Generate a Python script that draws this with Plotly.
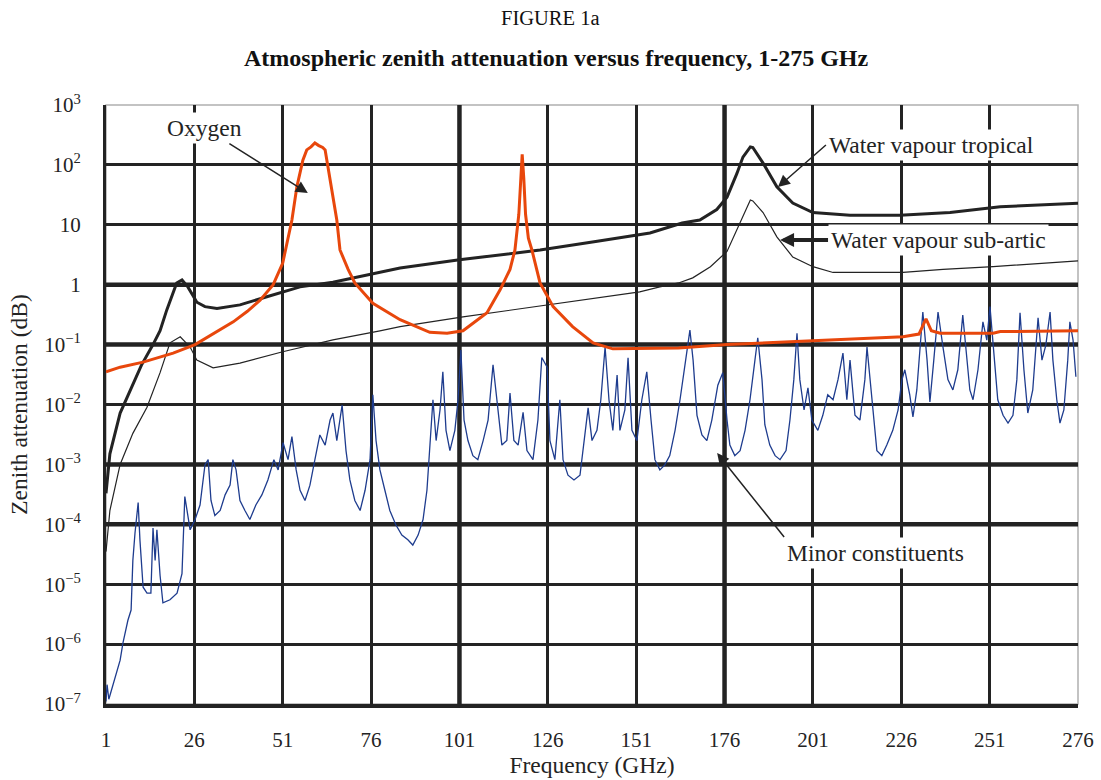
import plotly.graph_objects as go

# ---------------- data ----------------
x_ticks = [1, 26, 51, 76, 101, 126, 151, 176, 201, 226, 251, 276]
y_tickvals = [1e-7, 1e-6, 1e-5, 1e-4, 1e-3, 1e-2, 1e-1, 1, 10, 100, 1000]
y_ticktext = ["10<sup>−7</sup>", "10<sup>−6</sup>", "10<sup>−5</sup>", "10<sup>−4</sup>",
              "10<sup>−3</sup>", "10<sup>−2</sup>", "10<sup>−1</sup>", "1", "10",
              "10<sup>2</sup>", "10<sup>3</sup>"]

oxygen_f = [1, 5, 11.5, 20, 26.2, 32, 37, 41, 44.6, 48.3, 51, 53.6, 55, 56.7, 57.8, 59, 60.1,
            61.2, 62.3, 63, 63.5, 64.9, 66.3, 67.2, 69.5, 71.4, 76.5, 84.2, 92.6, 97.5, 102,
            108.8, 112.5, 115.3, 116.7, 117.8, 118.3, 118.75, 119.2, 119.7, 120.5, 121.5,
            123.8, 127.5, 133, 138.8, 144.4, 163, 176.7, 201, 226.5, 231, 233, 234.5, 237,
            252, 254, 276]
oxygen_db = [0.035, 0.042, 0.051, 0.072, 0.1, 0.16, 0.24, 0.36, 0.55, 1.0, 2.3, 12, 43, 120,
             178, 200, 233, 210, 195, 178, 120, 38, 12, 3.8, 1.8, 1.07, 0.49, 0.26, 0.16,
             0.155, 0.17, 0.34, 0.82, 1.8, 3.8, 15, 60, 150, 60, 15, 6, 3.8, 1.07, 0.43, 0.2,
             0.107, 0.085, 0.088, 0.1, 0.115, 0.135, 0.15, 0.27, 0.17, 0.155, 0.155, 0.165,
             0.17]

tropical_f = [1, 2.1, 5, 8.6, 11, 14.3, 16.3, 18.2, 21, 22.5, 24.2, 26.7, 29, 32.4, 38.9,
              46.5, 55.9, 65.2, 78.5, 84.2, 101, 123.8, 140, 154.9, 164, 169, 173.8, 176.7,
              179.5, 181.2, 183.3, 184, 186.9, 190.8, 195.3, 201, 211.5, 225.6, 239.8, 254,
              276]
tropical_db = [3.3e-4, 1.5e-3, 7.2e-3, 0.022, 0.045, 0.1, 0.17, 0.38, 1.07, 1.2, 0.91, 0.51,
               0.43, 0.4, 0.46, 0.63, 0.92, 1.1, 1.6, 1.9, 2.6, 3.8, 5.3, 7.3, 10.7, 12, 18,
               29, 72, 135, 200, 195, 107, 43, 23, 16, 14.5, 14.5, 16, 20, 23]

subarctic_f = [1, 2.1, 5, 8.6, 12.6, 16.3, 19.1, 22, 24.8, 26.7, 31.3, 38.9, 51, 65.2, 78.5,
               84.2, 102, 125.8, 152, 157.7, 163, 167, 172, 176.7, 180.3, 183.3, 184, 186.9,
               190.8, 195.3, 201, 206.7, 226.5, 237.8, 252, 276]
subarctic_db = [3.5e-5, 1.7e-4, 1.0e-3, 3.3e-3, 9e-3, 0.034, 0.107, 0.135, 0.091, 0.055,
                0.041, 0.049, 0.076, 0.12, 0.17, 0.2, 0.29, 0.46, 0.76, 0.92, 1.07, 1.3, 2.0,
                3.6, 10.7, 26, 25, 16, 6.3, 2.9, 2.0, 1.6, 1.6, 1.8, 2.0, 2.5]

minor_f = [1.0, 1.3, 1.8, 3.5, 5.0, 5.8, 7.2, 8.1, 8.6, 9.2, 10.1, 10.6, 11.5, 12.6, 13.7,
           14.3, 14.9, 15.4, 16.3, 17.1, 19.1, 21.1, 22.5, 23.3, 24.8, 26.2, 27.6, 29.0,
           29.9, 30.7, 31.8, 33.3, 34.7, 36.1, 36.9, 37.8, 38.9, 40.3, 41.7, 43.4, 45.1,
           46.8, 48.5, 49.7, 51.1, 52.5, 53.6, 54.8, 55.9, 57.3, 58.7, 60.1, 61.5, 63.0,
           64.4, 65.2, 66.3, 67.8, 68.9, 70.0, 71.4, 72.9, 74.3, 75.7, 76.5, 77.4, 78.5,
           79.9, 81.3, 83.0, 84.7, 86.4, 87.8, 89.3, 90.7, 91.8, 92.7, 93.5, 94.4, 95.5,
           96.3, 97.2, 98.3, 99.7, 100.6, 101.4, 102.3, 103.4, 104.8, 106.2, 107.7, 109.1,
           110.5, 111.6, 113.0, 114.4, 115.3, 116.4, 117.6, 119.0, 120.1, 121.8, 123.2,
           124.3, 125.8, 126.6, 128.0, 129.4, 130.3, 131.7, 133.4, 135.1, 136.5, 137.4,
           138.5, 139.9, 141.0, 142.2, 143.3, 144.4, 145.6, 146.4, 147.8, 148.7, 149.8,
           151.2, 152.6, 154.0, 155.2, 156.3, 157.7, 159.1, 160.5, 162.0, 163.4, 164.5,
           165.6, 166.2, 167.1, 168.2, 169.6, 171.0, 172.4, 174.1, 175.5, 176.7, 177.5,
           178.9, 180.4, 181.8, 183.2, 184.6, 185.4, 186.6, 187.4, 188.8, 190.3, 191.7,
           193.4, 194.5, 195.6, 196.5, 197.3, 198.5, 199.6, 200.7, 202.4, 203.8, 205.2,
           206.7, 208.1, 209.5, 210.6, 211.5, 212.9, 214.3, 215.7, 216.3, 217.7, 219.1,
           220.5, 221.9, 223.6, 225.1, 226.2, 227.0, 228.4, 229.3, 230.4, 232.1, 233.3,
           234.1, 235.2, 236.4, 237.8, 239.2, 240.6, 242.0, 243.4, 244.3, 245.4, 246.3,
           247.7, 249.1, 250.2, 251.1, 252.2, 253.3, 254.8, 256.2, 257.6, 258.7, 259.6,
           260.7, 261.8, 263.2, 264.7, 265.8, 266.9, 268.1, 268.9, 270.0, 270.9, 272.0,
           273.1, 273.7, 274.6, 275.4]
minor_db = [1.1e-7, 2.1e-7, 1.2e-7, 2.8e-7, 5.4e-7, 1.05e-6, 2.5e-6, 3.7e-6, 2.5e-5, 7.1e-5,
            2.3e-4, 5.5e-5, 8.9e-6, 7.1e-6, 7.1e-6, 8.7e-5, 2.5e-5, 8.1e-5, 1.4e-5, 4.9e-6,
            5.5e-6, 7.1e-6, 1.5e-5, 2.9e-4, 8.1e-5, 1.2e-4, 2.1e-4, 9.8e-4, 1.2e-3, 2.5e-4,
            1.4e-4, 1.7e-4, 3.1e-4, 4.5e-4, 1.2e-3, 8.1e-4, 2.5e-4, 1.7e-4, 1.2e-4, 2.1e-4,
            3.1e-4, 5.5e-4, 1.2e-3, 8.1e-4, 2.3e-3, 1.2e-3, 2.9e-3, 8.1e-4, 3.7e-4, 2.5e-4,
            4.5e-4, 1.2e-3, 3.1e-3, 2.1e-3, 5.5e-3, 7.2e-3, 2.5e-3, 9.8e-3, 1.7e-3, 5.5e-4,
            2.5e-4, 1.7e-4, 3.7e-4, 1.2e-3, 0.0145, 2.5e-3, 8.1e-4, 3.7e-4, 1.7e-4, 9.8e-5,
            6.6e-5, 5.5e-5, 4.5e-5, 6.6e-5, 1.2e-4, 3.7e-4, 2.5e-3, 0.012, 2.5e-3, 8.1e-3,
            0.035, 3.7e-3, 1.7e-3, 3.7e-3, 0.012, 0.081, 5.5e-3, 2.5e-3, 1.4e-3, 1.2e-3,
            2.5e-3, 5.5e-3, 0.046, 0.012, 2.1e-3, 2.5e-3, 0.0155, 2.5e-3, 2.1e-3, 7.4e-3,
            1.7e-3, 1.2e-3, 5.5e-3, 0.061, 0.042, 2.5e-3, 1.2e-3, 0.012, 1.2e-3, 6.6e-4,
            5.5e-4, 6.6e-4, 3.7e-3, 8.8e-3, 2.5e-3, 3.7e-3, 0.012, 0.091, 0.012, 3.7e-3,
            0.031, 3.7e-3, 8.1e-3, 0.060, 3.7e-3, 2.5e-3, 0.012, 0.035, 5.5e-3, 1.2e-3,
            8.1e-4, 9.8e-4, 1.4e-3, 3.7e-3, 0.012, 0.038, 0.098, 0.175, 0.055, 6.6e-3,
            3.1e-3, 2.5e-3, 5.5e-3, 0.021, 0.034, 5.5e-3, 2.1e-3, 1.4e-3, 1.7e-3, 3.7e-3,
            0.012, 0.055, 0.13, 0.026, 4.6e-3, 2.1e-3, 1.4e-3, 1.2e-3, 1.7e-3, 5.5e-3,
            0.026, 0.155, 0.026, 8.1e-3, 0.019, 5.5e-3, 3.7e-3, 6.6e-3, 0.0145, 0.012,
            0.026, 0.072, 0.012, 0.055, 6.6e-3, 5.5e-3, 0.026, 0.091, 0.012, 1.7e-3, 1.4e-3,
            2.1e-3, 3.7e-3, 8.1e-3, 0.026, 0.038, 0.0145, 6.2e-3, 0.0175, 0.35, 0.055, 0.011,
            0.055, 0.35, 0.091, 0.026, 0.0175, 0.038, 0.31, 0.081, 0.0175, 0.012, 0.038,
            0.24, 0.119, 0.43, 0.081, 0.012, 6.6e-3, 4.9e-3, 6.6e-3, 0.026, 0.34, 0.038,
            7.2e-3, 0.0175, 0.28, 0.055, 0.098, 0.35, 0.055, 0.012, 4.9e-3, 8.1e-3, 0.055,
            0.24, 0.119, 0.029]

thick_h = [1, 0.1, 1e-3, 1e-4]
thick_v = [101, 176]

# ---------------- figure ----------------
INK = "#232323"
FONT = "Liberation Serif, Times New Roman, serif"

fig = go.Figure()
fig.add_trace(go.Scatter(x=minor_f, y=minor_db, mode="lines", name="Minor constituents",
                         line=dict(color="#1e3c8e", width=1.3)))
fig.add_trace(go.Scatter(x=subarctic_f, y=subarctic_db, mode="lines", name="Water vapour sub-artic",
                         line=dict(color=INK, width=1.2)))
fig.add_trace(go.Scatter(x=tropical_f, y=tropical_db, mode="lines", name="Water vapour tropical",
                         line=dict(color=INK, width=3)))
fig.add_trace(go.Scatter(x=oxygen_f, y=oxygen_db, mode="lines", name="Oxygen",
                         line=dict(color="#e8470c", width=3)))

shapes = [dict(type="rect", xref="paper", yref="paper", x0=0, x1=1, y0=0, y1=1,
               line=dict(color="#b0b0b0", width=1.5), layer="between")]
for v in thick_h:
    shapes.append(dict(type="line", xref="paper", yref="y", x0=0, x1=1, y0=v, y1=v,
                       line=dict(color=INK, width=4.5), layer="between"))
for v in thick_v:
    shapes.append(dict(type="line", xref="x", yref="paper", x0=v, x1=v, y0=0, y1=1,
                       line=dict(color=INK, width=4.5), layer="between"))

annotations = [
    dict(text="FIGURE 1a", xref="paper", yref="paper", x=0.457, y=1.145,
         xanchor="center", yanchor="middle", showarrow=False,
         font=dict(family=FONT, size=20.5, color="#111")),
    dict(text="<b>Atmospheric zenith attenuation versus frequency, 1-275 GHz</b>",
         xref="paper", yref="paper", x=0.463, y=1.078,
         xanchor="center", yanchor="middle", showarrow=False,
         font=dict(family=FONT, size=24, color="#111")),
]

# label text, arrow head (x GHz, log10 dB), tail offset (px), anchors, arrow width
labels = [
    ("Oxygen", 58.1, 1.53, -103, -65, "center", "middle", 1.5),
    ("Water vapour tropical", 191.1, 1.63, 48, -42, "left", "middle", 1.5),
    ("Water vapour sub-artic", 191.7, 0.746, 48, 0, "left", "middle", 4),
    ("Minor constituents", 173.9, -2.81, 67, 84, "left", "top", 1.5),
]
for t, xx, yy, ax, ay, xa, ya, w in labels:
    annotations.append(dict(text=t, x=xx, y=yy, xref="x", yref="y",
                            showarrow=True, ax=ax, ay=ay, xanchor=xa, yanchor=ya,
                            arrowhead=2, arrowsize=1.6 if w < 2 else 0.7,
                            arrowwidth=w, arrowcolor=INK,
                            bgcolor="white", borderpad=2,
                            font=dict(family=FONT, size=23.5, color=INK)))

fig.update_layout(
    width=1101, height=780,
    margin=dict(l=106, r=23, t=105, b=76),
    paper_bgcolor="white", plot_bgcolor="white",
    showlegend=False,
    font=dict(family=FONT, size=21, color=INK),
    shapes=shapes, annotations=annotations,
    xaxis=dict(range=[1, 276], tickvals=x_ticks, ticktext=[str(v) for v in x_ticks],
               showgrid=True, gridcolor=INK, gridwidth=2.5, zeroline=False, automargin=False,
               showline=True, linecolor=INK, linewidth=4, ticks="", ticklabelstandoff=14,
               title=dict(text="Frequency (GHz)", standoff=6,
                          font=dict(family=FONT, size=23.5, color=INK)),
               tickfont=dict(family=FONT, size=21, color=INK)),
    yaxis=dict(type="log", range=[-7, 3], tickvals=y_tickvals, ticktext=y_ticktext,
               showgrid=True, gridcolor=INK, gridwidth=2.5, zeroline=False, automargin=False,
               showline=True, linecolor=INK, linewidth=3, ticks="", ticklabelstandoff=18,
               title=dict(text="Zenith attenuation (dB)", standoff=10,
                          font=dict(family=FONT, size=23.5, color=INK)),
               tickfont=dict(family=FONT, size=21, color=INK)),
)

fig.write_html("out.html", config={"displayModeBar": False},
               post_script="document.body.style.margin='0';")
